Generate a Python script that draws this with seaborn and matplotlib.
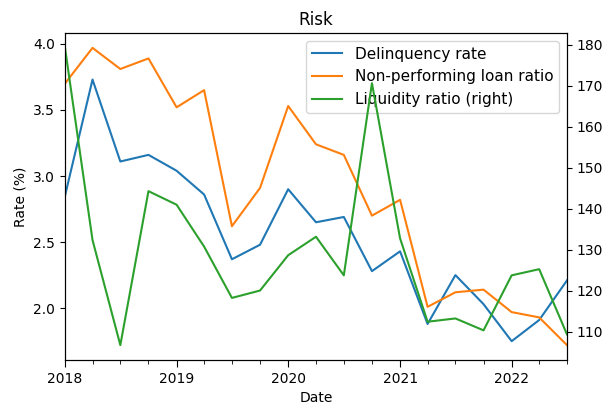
import pandas as pd
import numpy as np
import matplotlib
matplotlib.use('Agg')
import matplotlib.pyplot as plt
import matplotlib.dates as mdates
import seaborn as sns

# ── Data ──────────────────────────────────────────────────────────────────────
dates = pd.date_range('2018-01-01', '2022-07-01', freq='QS')
delinquency = [2.85, 3.73, 3.11, 3.16, 3.04, 2.86, 2.37, 2.48, 2.90, 2.65,
               2.69, 2.28, 2.43, 1.88, 2.25, 2.03, 1.75, 1.91, 2.21]
npl_ratio = [3.70, 3.97, 3.81, 3.89, 3.52, 3.65, 2.62, 2.91, 3.53, 3.24,
             3.16, 2.70, 2.82, 2.01, 2.12, 2.14, 1.97, 1.93, 1.72]
liquidity = [179.2, 132.4, 106.8, 144.3, 141.0, 130.8, 118.3, 120.1, 128.7, 133.2,
             123.8, 170.6, 132.8, 112.5, 113.3, 110.4, 123.8, 125.3, 109.4]

df = pd.DataFrame({'Date': dates, 'Delinquency rate': delinquency,
                   'Non-performing loan ratio': npl_ratio,
                   'Liquidity ratio': liquidity})

# ── Plot ──────────────────────────────────────────────────────────────────────
fig, ax = plt.subplots(figsize=(6.14, 4.11), dpi=100)
fig.subplots_adjust(left=65/614, right=567/614, top=1-33/411, bottom=1-360/411)

sns.lineplot(data=df, x='Date', y='Delinquency rate', ax=ax, color='#1f77b4',
             label='Delinquency rate', legend=False)
sns.lineplot(data=df, x='Date', y='Non-performing loan ratio', ax=ax, color='#ff7f0e',
             label='Non-performing loan ratio', legend=False)
ax2 = ax.twinx()
sns.lineplot(data=df, x='Date', y='Liquidity ratio', ax=ax2, color='#2ca02c',
             label='Liquidity ratio (right)', legend=False)

ax.set_xlim(dates[0], dates[-1])
ax.xaxis.set_major_locator(mdates.YearLocator())
ax.xaxis.set_major_formatter(mdates.DateFormatter('%Y'))
ax.xaxis.set_minor_locator(mdates.MonthLocator(bymonth=[1, 4, 7, 10]))
ax.tick_params(axis='x', which='major', length=5)
ax.tick_params(axis='x', which='minor', length=3)

ax.set_title('Risk')
ax.set_xlabel('Date')
ax.set_ylabel('Rate (%)')
ax2.set_ylabel('')

h1, l1 = ax.get_legend_handles_labels()
h2, l2 = ax2.get_legend_handles_labels()
ax.legend(h1 + h2, l1 + l2, loc='upper right', fontsize=11)

plt.savefig('out.png', dpi=100)
plt.close()
